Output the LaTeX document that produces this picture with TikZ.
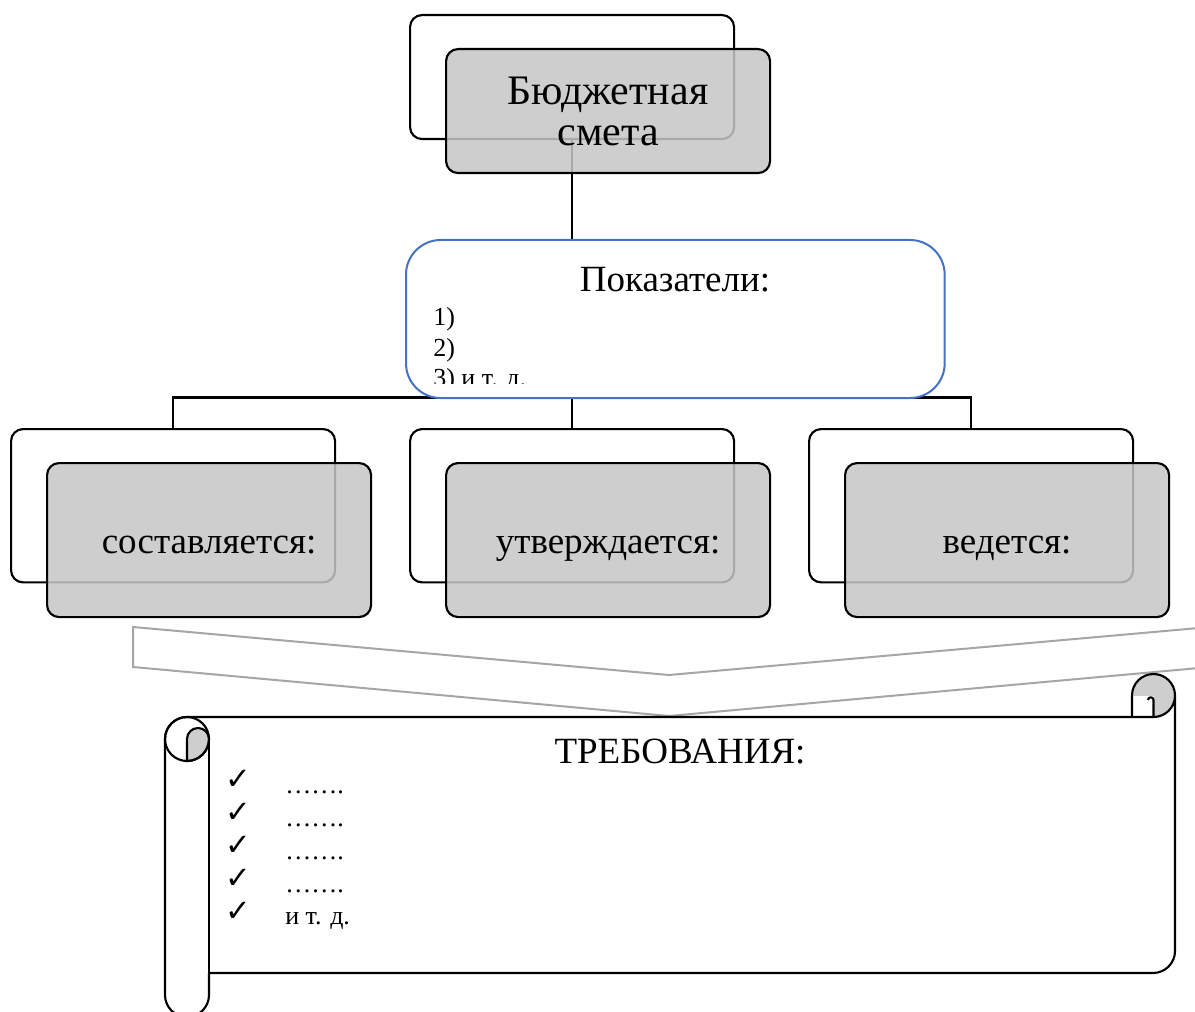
\documentclass[tikz,border=0pt]{standalone}
\usepackage{fontspec}
\setmainfont{Liberation Serif}
\newfontfamily\symfont{DejaVu Sans}
\definecolor{pokblue}{RGB}{68,114,196}
\definecolor{shade}{RGB}{198,198,198}
\definecolor{chev}{RGB}{166,166,166}
\definecolor{curlgray}{RGB}{206,206,206}
\begin{document}
\begin{tikzpicture}[x=0.75pt,y=-0.75pt,
  backbox/.style={draw, line width=1.6pt, rounded corners=9pt, fill=white, minimum width=243pt, inner sep=0pt, anchor=north west},
  frontbox/.style={draw, line width=1.6pt, rounded corners=9pt, fill=shade, fill opacity=0.85, text opacity=1, minimum width=243pt, inner sep=0pt, anchor=north west, font=\fontsize{27.75}{31}\selectfont, align=center},
  link/.style={line width=1.6pt},
  bigtext/.style={font=\fontsize{27.75}{31}\selectfont, inner sep=0pt},
  smalltext/.style={font=\fontsize{19.5}{23}\selectfont, inner sep=0pt, anchor=base west},
  checkmk/.style={font=\symfont\fontsize{23}{25}\selectfont, inner sep=0pt, anchor=base},
  scrollline/.style={line width=1.6pt, line join=round},
]
\useasboundingbox (0,0) rectangle (1195,1012);
\clip (0,0) rectangle (1195,1012);

% back boxes
\node[backbox, minimum height=93pt] (topback) at (409,14) {};
\node[backbox, minimum height=115pt] (leftback) at (10,428) {};
\node[backbox, minimum height=115pt] (midback) at (409,428) {};
\node[backbox, minimum height=115pt] (rightback) at (808,428) {};

% connectors
\coordinate (bus) at (571,397.5);
\draw[link] (topback.south) -- (midback.north);
\draw[link] (leftback.north) |- (bus) -| (rightback.north);

% front boxes
\node[frontbox, minimum height=93pt, font=\fontsize{31.5}{30.75}\selectfont] (topfront) at (445,48) {Бюджетная\\смета};
\node[frontbox, minimum height=115.5pt, text height=24pt, text depth=4pt] (leftfront) at (46,462) {составляется:};
\node[frontbox, minimum height=115.5pt, text height=24pt, text depth=4pt] (midfront) at (445,462) {утверждается:};
\node[frontbox, minimum height=115.5pt, text height=24pt, text depth=4pt] (rightfront) at (844,462) {ведется:};

% indicators box
\node[draw=pokblue, line width=1.5pt, rounded corners=26pt, fill=white, minimum width=404pt, minimum height=118.5pt, anchor=north west, inner sep=0pt] (pok) at (405,239) {};
\node[bigtext, anchor=base] (poktitle) at (675,292) {Показатели:};
\begin{scope}
  \clip (406,240) rectangle (943,383);
  \node[smalltext] (pok1) at (433,326) {1)};
  \node[smalltext] (pok2) at (433,356.5) {2)};
  \node[smalltext] (pok3) at (433,387) {3) и т. д.};
\end{scope}

% chevron
\draw[chev, line width=1.5pt, fill=white, line join=miter] (133,627) -- (669,675) -- (1210,627) -- (1210,667) -- (669,716) -- (133,667) -- cycle;

% scroll body fill
\fill[white] (187,717) -- (1153.5,717) arc (90:0:21.5) -- (1175,951) arc (0:90:22) -- (209,973) -- (209,995) arc (0:180:22) -- (165,739) arc (180:270:22) -- cycle;
% right curl fills
\fill[curlgray] (1153.5,695.5) circle (21.5);
\fill[white] (1132,695.5) rectangle (1153.5,717.5);
% left curl fill
\filldraw[scrollline, fill=curlgray] (187,739) arc (180:360:11) arc (0:90:22) -- cycle;
% scroll outline
\draw[scrollline] (187,717) -- (1153.5,717) arc (90:0:21.5) -- (1175,951) arc (0:90:22) -- (209,973) -- (209,995) arc (0:180:22) -- (165,739) arc (180:270:22) -- cycle;
\draw[scrollline] (187,739) circle (22);
\draw[scrollline] (209,739) -- (209,973);
\draw[scrollline] (1132,717) -- (1132,695.5) arc (180:360:21.5);
\draw[scrollline] (1153.5,717) -- (1153.5,700) arc (0:-180:2.75);

% requirements
\node[bigtext, anchor=base] (req) at (680,763) {ТРЕБОВАНИЯ:};
\node[checkmk] (c1) at (238,789) {✓};
\node[checkmk] (c2) at (238,822) {✓};
\node[checkmk] (c3) at (238,855) {✓};
\node[checkmk] (c4) at (238,888) {✓};
\node[checkmk] (c5) at (238,921) {✓};
\node[smalltext] (r1) at (285,793) {…….};
\node[smalltext] (r2) at (285,826) {…….};
\node[smalltext] (r3) at (285,859) {…….};
\node[smalltext] (r4) at (285,892) {…….};
\node[smalltext] (r5) at (285,924) {и т. д.};
\end{tikzpicture}
\end{document}
